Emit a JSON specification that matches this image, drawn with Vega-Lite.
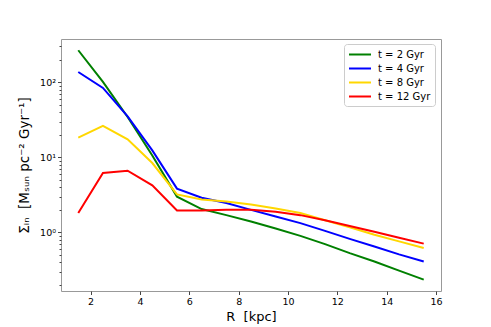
{
  "$schema": "https://vega.github.io/schema/vega-lite/v6.json",
  "width": 380,
  "height": 252,
  "autosize": {"type": "none"},
  "padding": {"left": 61, "top": 39, "right": 50, "bottom": 36},
  "background": "white",
  "config": {
    "font": "DejaVu Sans",
    "view": {"stroke": "#999", "strokeWidth": 1}
  },
  "data": {
    "values": [
      {"R": 1.5, "t": "t = 2 Gyr", "S": 267},
      {"R": 2.5, "t": "t = 2 Gyr", "S": 101},
      {"R": 3.5, "t": "t = 2 Gyr", "S": 34.5},
      {"R": 4.5, "t": "t = 2 Gyr", "S": 10.6},
      {"R": 5.5, "t": "t = 2 Gyr", "S": 3.0},
      {"R": 6.5, "t": "t = 2 Gyr", "S": 2.05},
      {"R": 7.5, "t": "t = 2 Gyr", "S": 1.7},
      {"R": 8.5, "t": "t = 2 Gyr", "S": 1.4},
      {"R": 9.5, "t": "t = 2 Gyr", "S": 1.13},
      {"R": 10.5, "t": "t = 2 Gyr", "S": 0.9},
      {"R": 11.5, "t": "t = 2 Gyr", "S": 0.7},
      {"R": 12.5, "t": "t = 2 Gyr", "S": 0.53},
      {"R": 13.5, "t": "t = 2 Gyr", "S": 0.41},
      {"R": 14.5, "t": "t = 2 Gyr", "S": 0.31},
      {"R": 15.5, "t": "t = 2 Gyr", "S": 0.235},
      {"R": 1.5, "t": "t = 4 Gyr", "S": 137},
      {"R": 2.5, "t": "t = 4 Gyr", "S": 84},
      {"R": 3.5, "t": "t = 4 Gyr", "S": 35.2},
      {"R": 4.5, "t": "t = 4 Gyr", "S": 12.4},
      {"R": 5.5, "t": "t = 4 Gyr", "S": 3.83},
      {"R": 6.5, "t": "t = 4 Gyr", "S": 2.9},
      {"R": 7.5, "t": "t = 4 Gyr", "S": 2.46},
      {"R": 8.5, "t": "t = 4 Gyr", "S": 2.0},
      {"R": 9.5, "t": "t = 4 Gyr", "S": 1.63},
      {"R": 10.5, "t": "t = 4 Gyr", "S": 1.33},
      {"R": 11.5, "t": "t = 4 Gyr", "S": 1.05},
      {"R": 12.5, "t": "t = 4 Gyr", "S": 0.82},
      {"R": 13.5, "t": "t = 4 Gyr", "S": 0.65},
      {"R": 14.5, "t": "t = 4 Gyr", "S": 0.51},
      {"R": 15.5, "t": "t = 4 Gyr", "S": 0.41},
      {"R": 1.5, "t": "t = 8 Gyr", "S": 18.3},
      {"R": 2.5, "t": "t = 8 Gyr", "S": 26.2},
      {"R": 3.5, "t": "t = 8 Gyr", "S": 17.4},
      {"R": 4.5, "t": "t = 8 Gyr", "S": 8.4},
      {"R": 5.5, "t": "t = 8 Gyr", "S": 3.21},
      {"R": 6.5, "t": "t = 8 Gyr", "S": 2.75},
      {"R": 7.5, "t": "t = 8 Gyr", "S": 2.59},
      {"R": 8.5, "t": "t = 8 Gyr", "S": 2.36},
      {"R": 9.5, "t": "t = 8 Gyr", "S": 2.09},
      {"R": 10.5, "t": "t = 8 Gyr", "S": 1.81},
      {"R": 11.5, "t": "t = 8 Gyr", "S": 1.45},
      {"R": 12.5, "t": "t = 8 Gyr", "S": 1.17},
      {"R": 13.5, "t": "t = 8 Gyr", "S": 0.93},
      {"R": 14.5, "t": "t = 8 Gyr", "S": 0.76},
      {"R": 15.5, "t": "t = 8 Gyr", "S": 0.62},
      {"R": 1.5, "t": "t = 12 Gyr", "S": 1.81},
      {"R": 2.5, "t": "t = 12 Gyr", "S": 6.18},
      {"R": 3.5, "t": "t = 12 Gyr", "S": 6.64},
      {"R": 4.5, "t": "t = 12 Gyr", "S": 4.23},
      {"R": 5.5, "t": "t = 12 Gyr", "S": 1.96},
      {"R": 6.5, "t": "t = 12 Gyr", "S": 1.96},
      {"R": 7.5, "t": "t = 12 Gyr", "S": 2.0},
      {"R": 8.5, "t": "t = 12 Gyr", "S": 2.0},
      {"R": 9.5, "t": "t = 12 Gyr", "S": 1.89},
      {"R": 10.5, "t": "t = 12 Gyr", "S": 1.7},
      {"R": 11.5, "t": "t = 12 Gyr", "S": 1.45},
      {"R": 12.5, "t": "t = 12 Gyr", "S": 1.22},
      {"R": 13.5, "t": "t = 12 Gyr", "S": 1.02},
      {"R": 14.5, "t": "t = 12 Gyr", "S": 0.85},
      {"R": 15.5, "t": "t = 12 Gyr", "S": 0.71}
    ]
  },
  "mark": {"type": "line", "strokeWidth": 2, "clip": true},
  "encoding": {
    "x": {
      "field": "R",
      "type": "quantitative",
      "scale": {"domain": [0.8, 16.2], "nice": false, "zero": false},
      "axis": {
        "title": "R\u00a0\u00a0[kpc]",
        "titleFont": "DejaVu Sans",
        "titleFontSize": 13,
        "titleFontWeight": "normal",
        "titleColor": "black",
        "titlePadding": 4,
        "values": [2, 4, 6, 8, 10, 12, 14, 16],
        "grid": false,
        "domain": false,
        "tickSize": 3.5,
        "tickColor": "#444",
        "labelFontSize": 9.5,
        "labelColor": "black",
        "labelPadding": 2,
        "labelFlush": false
      }
    },
    "y": {
      "field": "S",
      "type": "quantitative",
      "scale": {"type": "log", "domain": [0.166, 377], "nice": false},
      "axis": {
        "title": "Σᵢₙ\u00a0\u00a0[Mₛᵤₙ pc⁻² Gyr⁻¹]",
        "titleFont": "DejaVu Sans",
        "titleFontSize": 13.5,
        "titleFontWeight": "normal",
        "titleColor": "black",
        "titlePadding": 8,
        "values": [0.2, 0.3, 0.4, 0.5, 0.6, 0.7, 0.8, 0.9, 1, 2, 3, 4, 5, 6, 7, 8, 9, 10, 20, 30, 40, 50, 60, 70, 80, 90, 100, 200, 300],
        "labelExpr": "datum.value == 1 ? '10⁰' : datum.value == 10 ? '10¹' : datum.value == 100 ? '10²' : ''",
        "grid": false,
        "domain": false,
        "tickSize": {"condition": {"test": "datum.value == 1 || datum.value == 10 || datum.value == 100", "value": 3.5}, "value": 2},
        "tickColor": "#444",
        "labelFontSize": 9.5,
        "labelColor": "black",
        "labelPadding": 2
      }
    },
    "color": {
      "field": "t",
      "type": "nominal",
      "scale": {
        "domain": ["t = 2 Gyr", "t = 4 Gyr", "t = 8 Gyr", "t = 12 Gyr"],
        "range": ["#008000", "#0000ff", "#ffd700", "#ff0000"]
      },
      "legend": {
        "title": null,
        "orient": "none",
        "legendX": 283,
        "legendY": 5,
        "symbolType": "M-1,0H3",
        "symbolSize": 121,
        "symbolStrokeWidth": 2,
        "symbolFillColor": "transparent",
        "labelFontSize": 10,
        "labelColor": "black",
        "labelOffset": 17,
        "rowPadding": 2,
        "padding": 4,
        "strokeColor": "#ccc",
        "cornerRadius": 3,
        "fillColor": "white"
      }
    }
  }
}
